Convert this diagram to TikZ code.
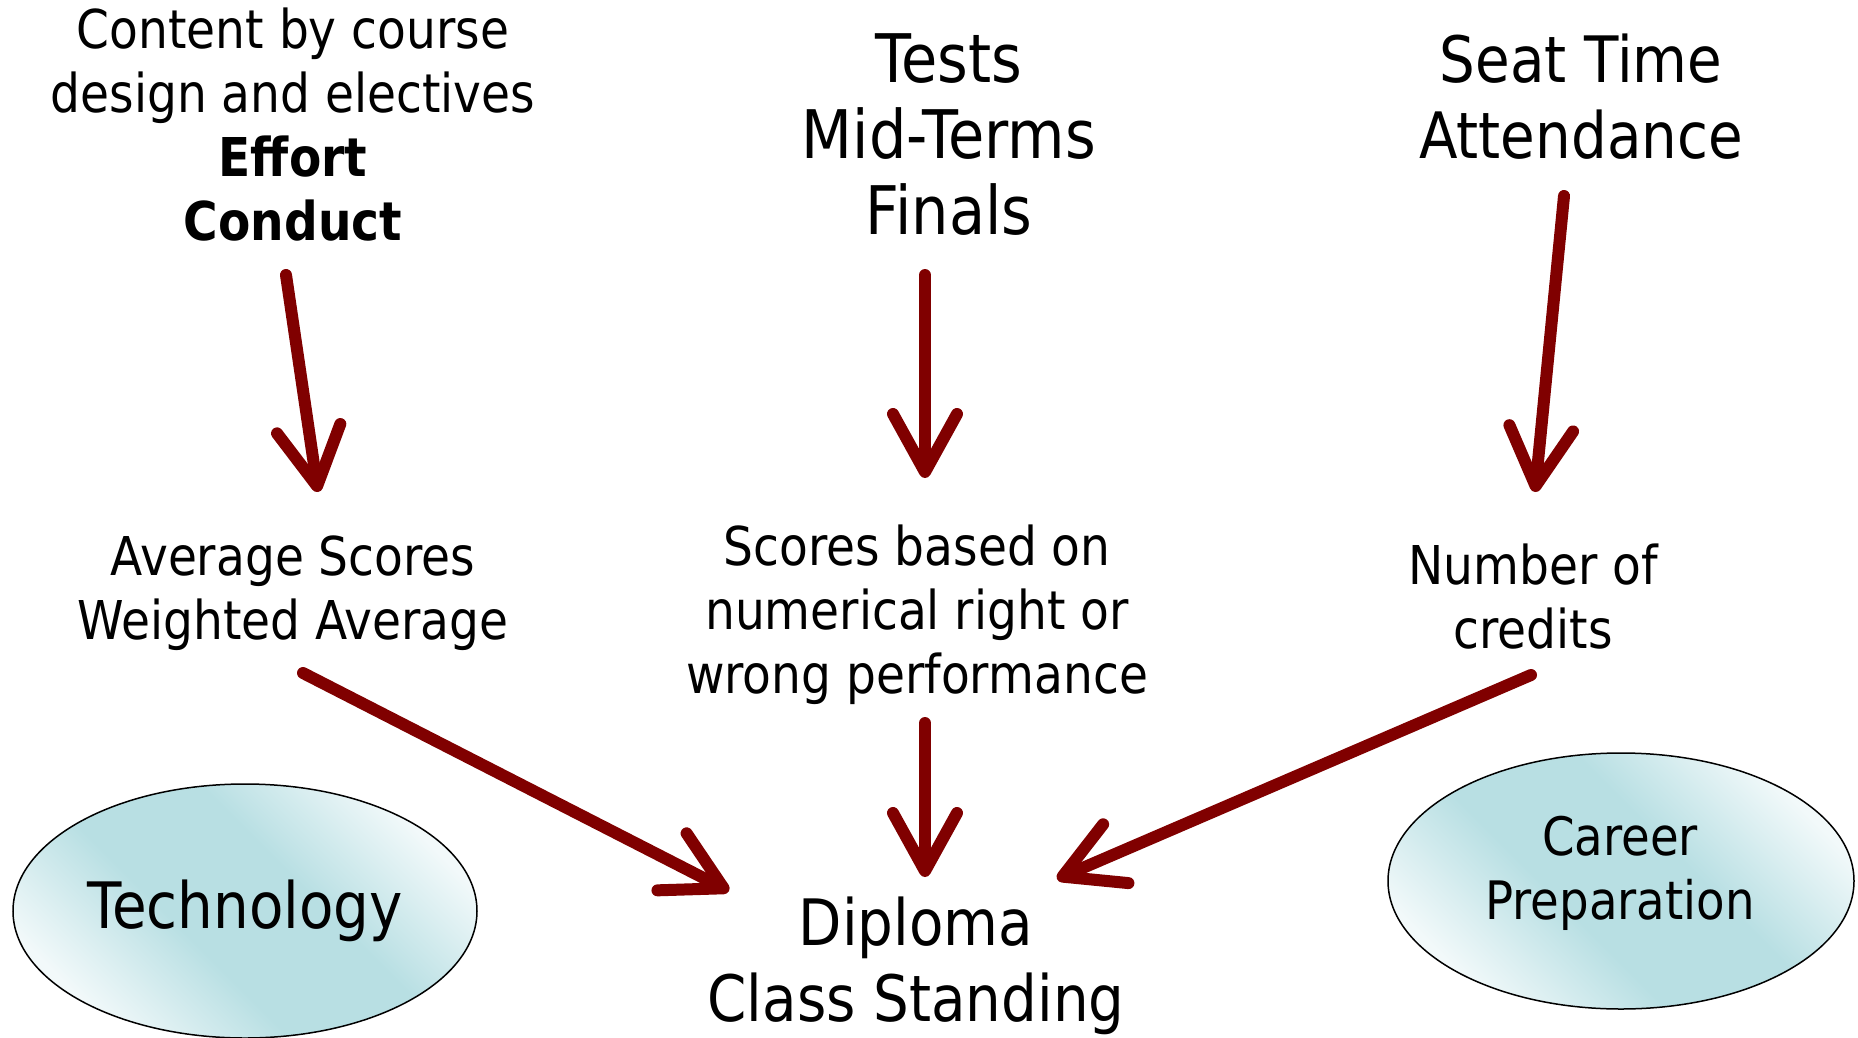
\documentclass[tikz,border=0pt]{standalone}
\usepackage{fontspec}
\setmainfont{DejaVu Sans}[FakeStretch=0.88]
\usetikzlibrary{arrows.meta,shapes.geometric}
\definecolor{arrowred}{RGB}{128,0,0}
\definecolor{ellcore}{RGB}{184,223,227}
\definecolor{elledge}{RGB}{242,249,250}
\pgfdeclareverticalshading{ovalshade}{100bp}{color(0bp)=(elledge); color(25bp)=(elledge); color(42bp)=(ellcore); color(58bp)=(ellcore); color(75bp)=(elledge); color(100bp)=(elledge)}
\tikzset{
  txtS/.style={align=center, inner sep=0pt, font=\fontsize{53.5}{64}\selectfont},
  txtL/.style={align=center, inner sep=0pt, font=\fontsize{64}{76}\selectfont},
  txtT/.style={align=center, inner sep=0pt, font=\fontsize{67}{76}\selectfont},
  txtC/.style={align=center, inner sep=0pt, font=\fontsize{53}{64}\selectfont},
  oval/.style={ellipse, draw=black, line width=1.5pt, inner sep=0pt,
    shading=ovalshade, shading angle=-45},
  flow/.style={draw=arrowred, line width=12pt, line cap=round,
    -{Straight Barb[length=58pt, width=64pt, round]}}
}
\begin{document}
\begin{tikzpicture}[x=1pt, y=-1pt]
\useasboundingbox (0,0) rectangle (1858,1038);
% text blocks
\node[txtS] (content) at (293,125) {Content by course\\design and electives\\\textbf{Effort}\\\textbf{Conduct}};
\node[txtT] (tests) at (949,135) {Tests\\Mid-Terms\\Finals};
\node[txtL] (seat) at (1581,97) {Seat Time\\Attendance};
\node[txtS] (avg) at (293,593) {Average Scores\\Weighted Average};
\node[txtS] (scores) at (917,615) {Scores based on\\numerical right or\\wrong performance};
\node[txtS] (credits) at (1533,597) {Number of\\credits};
\node[txtL] (diploma) at (916,966) {Diploma\\Class Standing};
% ellipses
\node[oval, minimum width=464pt, minimum height=254pt] (tech) at (245,911) {};
\node[txtL] (techtxt) at (245,911) {Technology};
\node[oval, minimum width=466pt, minimum height=256pt] (career) at (1621,881) {};
\node[txtC] (careertxt) at (1620,873) {Career\\Preparation};
% arrow end points
\coordinate (a1s) at (286,275); \coordinate (a1e) at (318,492);
\coordinate (a2s) at (925,275); \coordinate (a2e) at (925,478);
\coordinate (a3s) at (1564,196); \coordinate (a3e) at (1535,492);
\coordinate (a4s) at (303,673); \coordinate (a4e) at (729,891);
\coordinate (a5s) at (925,723); \coordinate (a5e) at (925,877);
\coordinate (a6s) at (1531,675); \coordinate (a6e) at (1057,879);
\draw[flow] (a1s) -- (a1e);
\draw[flow] (a2s) -- (a2e);
\draw[flow] (a3s) -- (a3e);
\draw[flow] (a4s) -- (a4e);
\draw[flow] (a5s) -- (a5e);
\draw[flow] (a6s) -- (a6e);
\end{tikzpicture}
\end{document}
